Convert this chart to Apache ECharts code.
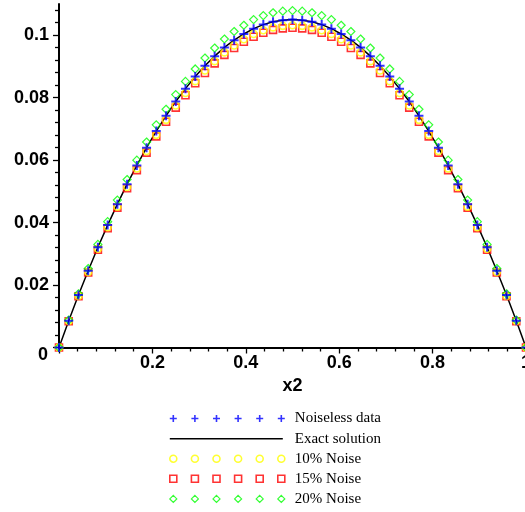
<!DOCTYPE html>
<html>
<head>
<meta charset="utf-8">
<script src="https://cdn.jsdelivr.net/npm/echarts@6/dist/echarts.min.js"></script>
<style>html,body{margin:0;padding:0;background:#fff}#c{width:525px;height:512px}</style>
</head>
<body>
<div id="c"></div>
<script>
const xValues = [0, 0.0208, 0.0417, 0.0625, 0.0833, 0.1042, 0.125, 0.1458, 0.1667, 0.1875, 0.2083, 0.2292, 0.25, 0.2708, 0.2917, 0.3125, 0.3333, 0.3542, 0.375, 0.3958, 0.4167, 0.4375, 0.4583, 0.4792, 0.5, 0.5208, 0.5417, 0.5625, 0.5833, 0.6042, 0.625, 0.6458, 0.6667, 0.6875, 0.7083, 0.7292, 0.75, 0.7708, 0.7917, 0.8125, 0.8333, 0.8542, 0.875, 0.8958, 0.9167, 0.9375, 0.9583, 0.9792, 1];
const noiseless = [0, 0.0086, 0.0168, 0.0246, 0.0321, 0.0392, 0.0459, 0.0523, 0.0583, 0.0640, 0.0693, 0.0742, 0.0788, 0.0829, 0.0868, 0.0902, 0.0933, 0.0961, 0.0984, 0.1004, 0.1021, 0.1034, 0.1043, 0.1048, 0.1050, 0.1048, 0.1043, 0.1034, 0.1021, 0.1004, 0.0984, 0.0961, 0.0933, 0.0902, 0.0868, 0.0829, 0.0788, 0.0742, 0.0693, 0.0640, 0.0583, 0.0523, 0.0459, 0.0392, 0.0321, 0.0246, 0.0168, 0.0086, 0];
const exact = [0, 0.0086, 0.0168, 0.0246, 0.0321, 0.0392, 0.0459, 0.0523, 0.0583, 0.0640, 0.0693, 0.0742, 0.0788, 0.0829, 0.0868, 0.0902, 0.0933, 0.0961, 0.0984, 0.1004, 0.1021, 0.1034, 0.1043, 0.1048, 0.1050, 0.1048, 0.1043, 0.1034, 0.1021, 0.1004, 0.0984, 0.0961, 0.0933, 0.0902, 0.0868, 0.0829, 0.0788, 0.0742, 0.0693, 0.0640, 0.0583, 0.0523, 0.0459, 0.0392, 0.0321, 0.0246, 0.0168, 0.0086, 0];
const noise10 = [0, 0.0085, 0.0165, 0.0242, 0.0316, 0.0385, 0.0451, 0.0514, 0.0573, 0.0629, 0.0681, 0.0729, 0.0775, 0.0815, 0.0853, 0.0887, 0.0917, 0.0945, 0.0967, 0.0987, 0.1004, 0.1016, 0.1025, 0.1030, 0.1032, 0.1030, 0.1025, 0.1016, 0.1004, 0.0987, 0.0967, 0.0945, 0.0917, 0.0887, 0.0853, 0.0815, 0.0775, 0.0729, 0.0681, 0.0629, 0.0573, 0.0514, 0.0451, 0.0385, 0.0316, 0.0242, 0.0165, 0.0085, 0];
const noise15 = [0, 0.0084, 0.0164, 0.0240, 0.0313, 0.0382, 0.0448, 0.0510, 0.0568, 0.0624, 0.0676, 0.0723, 0.0768, 0.0808, 0.0846, 0.0879, 0.0910, 0.0937, 0.0959, 0.0979, 0.0995, 0.1008, 0.1017, 0.1022, 0.1024, 0.1022, 0.1017, 0.1008, 0.0995, 0.0979, 0.0959, 0.0937, 0.0910, 0.0879, 0.0846, 0.0808, 0.0768, 0.0723, 0.0676, 0.0624, 0.0568, 0.0510, 0.0448, 0.0382, 0.0313, 0.0240, 0.0164, 0.0084, 0];
const noise20 = [0, 0.0088, 0.0172, 0.0253, 0.0330, 0.0403, 0.0472, 0.0538, 0.0600, 0.0658, 0.0713, 0.0763, 0.0810, 0.0852, 0.0892, 0.0927, 0.0959, 0.0988, 0.1012, 0.1032, 0.1050, 0.1063, 0.1072, 0.1077, 0.1079, 0.1077, 0.1072, 0.1063, 0.1050, 0.1032, 0.1012, 0.0988, 0.0959, 0.0927, 0.0892, 0.0852, 0.0810, 0.0763, 0.0713, 0.0658, 0.0600, 0.0538, 0.0472, 0.0403, 0.0330, 0.0253, 0.0172, 0.0088, 0];
const xTickValues = [0, 0.2, 0.4, 0.6, 0.8, 1];
const yTickValues = [0, 0.02, 0.04, 0.06, 0.08, 0.1];
const names = ['Noiseless data', 'Exact solution', '10% Noise', '15% Noise', '20% Noise'];

function pairs(ys) { return xValues.map((x, i) => [x, ys[i]]); }

// legend icon paths: six repeated symbols in a 115 x 7 box
const legendCenters = [3.5, 25.1, 46.7, 68.3, 89.9, 111.5];
function rowPath(shape) {
  return 'path://' + legendCenters.map(c => {
    const l = (c - 3.5).toFixed(1), r = (c + 3.5).toFixed(1), m = c.toFixed(1);
    if (shape === 'plus') return `M${l},3.5L${r},3.5M${m},0L${m},7`;
    if (shape === 'circle') return `M${l},3.5A3.5,3.5,0,1,1,${r},3.5A3.5,3.5,0,1,1,${l},3.5Z`;
    if (shape === 'square') return `M${l},0L${r},0L${r},7L${l},7Z`;
    return `M${m},0L${r},3.5L${m},7L${l},3.5Z`;
  }).join('');
}
// thin horizontal rule inside the same 115 x 7 box (corner points have zero area)
const linePath = 'path://M0,0L0.01,0L0,0ZM0,2.8L113,2.8L113,4.3L0,4.3ZM115,7L114.99,7L115,7Z';

const clear = 'rgba(0,0,0,0)';
const tickFont = { fontFamily: 'Liberation Sans', fontWeight: 'bold', fontSize: 18, color: '#000' };
const chart = echarts.init(document.getElementById('c'), null, { renderer: 'canvas' });
chart.setOption({
  animation: false,
  grid: { left: 59, right: -1, top: 4, bottom: 164.5, containLabel: false, outerBoundsMode: 'none' },
  xAxis: {
    type: 'value', min: 0, max: 1, interval: 0.2,
    name: 'x2', nameLocation: 'middle', nameGap: 28,
    nameTextStyle: tickFont,
    axisLine: { lineStyle: { color: '#000', width: 2 } },
    axisTick: { length: 6, lineStyle: { color: '#000', width: 1.3 }, customValues: xTickValues },
    minorTick: { show: true, splitNumber: 5, length: 4, lineStyle: { color: '#000', width: 1.3 } },
    axisLabel: Object.assign({ showMinLabel: false, margin: 7, hideOverlap: false }, tickFont),
    splitLine: { show: false }
  },
  yAxis: {
    type: 'value', min: 0, max: 0.11, interval: 0.02,
    axisLine: { onZero: false, lineStyle: { color: '#000', width: 2 } },
    axisTick: { length: 6, lineStyle: { color: '#000', width: 1.3 }, customValues: yTickValues },
    minorTick: { show: true, splitNumber: 5, length: 4, lineStyle: { color: '#000', width: 1.3 } },
    axisLabel: Object.assign({
      showMaxLabel: false, margin: 10,
      formatter: v => v === 0 ? '{z|0}' : String(v),
      rich: { z: Object.assign({ padding: [16, 1, 0, 0] }, tickFont) }
    }, tickFont),
    splitLine: { show: false }
  },
  legend: {
    orient: 'vertical', left: 164, top: 406, height: 140, itemWidth: 115, itemHeight: 7, itemGap: 5.1,
    textStyle: { fontFamily: 'Liberation Serif', fontSize: 15, color: '#000', lineHeight: 14, padding: [0, 0, 0, 5] },
    selectedMode: false,
    data: [
      { name: names[0], icon: rowPath('plus'), itemStyle: { color: clear, borderColor: '#0000ff', borderWidth: 1.6 } },
      { name: names[1], icon: linePath, itemStyle: { color: '#000', borderWidth: 0 } },
      { name: names[2], icon: rowPath('circle'), itemStyle: { color: clear, borderColor: '#ffff00', borderWidth: 1.6 } },
      { name: names[3], icon: rowPath('square'), itemStyle: { color: clear, borderColor: '#ff0000', borderWidth: 1.6 } },
      { name: names[4], icon: rowPath('diamond'), itemStyle: { color: clear, borderColor: '#00ff00', borderWidth: 1.2 } }
    ]
  },
  series: [
    { name: names[1], type: 'line', data: pairs(exact), showSymbol: false, symbol: 'none', smooth: false,
      lineStyle: { color: '#000', width: 1.5 }, itemStyle: { color: '#000' }, z: 1 },
    { name: names[3], type: 'scatter', data: pairs(noise15), symbol: 'rect', symbolSize: 7,
      itemStyle: { color: clear, borderColor: '#ff0000', borderWidth: 1.6 }, z: 2 },
    { name: names[2], type: 'scatter', data: pairs(noise10), symbol: 'circle', symbolSize: 7,
      itemStyle: { color: clear, borderColor: '#ffff00', borderWidth: 1.6 }, z: 3 },
    { name: names[4], type: 'scatter', data: pairs(noise20), symbol: 'diamond', symbolSize: 8,
      itemStyle: { color: clear, borderColor: '#00ff00', borderWidth: 1.2 }, z: 4 },
    { name: names[0], type: 'scatter', data: pairs(noiseless), symbol: 'path://M0,4L8,4M4,0L4,8', symbolSize: 9,
      itemStyle: { color: clear, borderColor: '#0000ff', borderWidth: 2 }, z: 5 }
  ]
});
</script>
</body>
</html>
